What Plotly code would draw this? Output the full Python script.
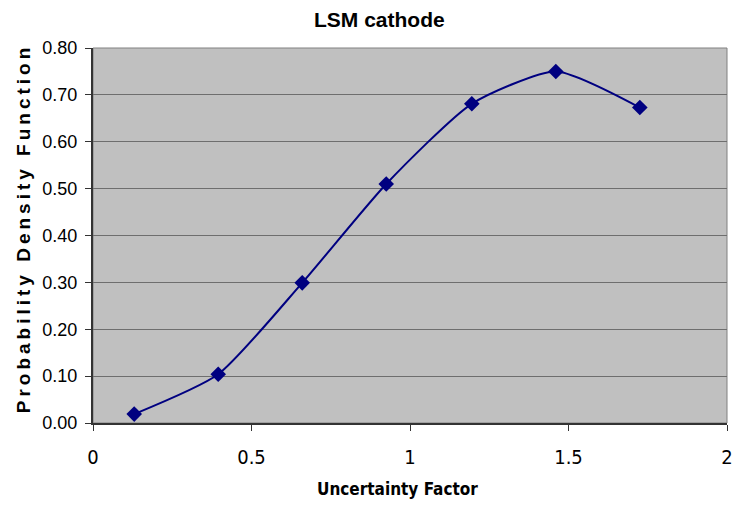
import plotly.graph_objects as go

uncertainty_factor = [0.13, 0.395, 0.66, 0.925, 1.195, 1.46, 1.725]
pdf_values = [0.019, 0.104, 0.299, 0.510, 0.681, 0.750, 0.673]
y_ticks = [0.0, 0.1, 0.2, 0.3, 0.4, 0.5, 0.6, 0.7, 0.8]
y_tick_labels = ["0.00", "0.10", "0.20", "0.30", "0.40", "0.50", "0.60", "0.70", "0.80"]
x_ticks = [0, 0.5, 1, 1.5, 2]
x_tick_labels = ["0", "0.5", "1", "1.5", "2"]

NAVY = "#000080"
NARROW = "DejaVu Sans Condensed, Liberation Sans Narrow, sans-serif"
ARIAL = "Liberation Sans, Arial, sans-serif"

fig = go.Figure()
fig.add_trace(go.Scatter(
    x=uncertainty_factor, y=pdf_values,
    mode="lines+markers",
    line=dict(color=NAVY, width=2, shape="spline", smoothing=0.6),
    marker=dict(symbol="diamond", size=12, color=NAVY),
    showlegend=False,
))

fig.update_layout(
    width=739, height=510,
    margin=dict(l=93, r=6, t=48, b=87),
    paper_bgcolor="white",
    plot_bgcolor="#C0C0C0",
    title=dict(text="<b>LSM cathode</b>", x=0.4516, xref="paper", xanchor="center",
               y=0.961, yref="container", yanchor="middle",
               font=dict(family=ARIAL, size=21, color="black")),
    xaxis=dict(range=[0, 2], tickvals=x_ticks, ticktext=x_tick_labels,
               showgrid=False, zeroline=False,
               showline=True, linecolor="#333333", linewidth=2,
               ticks="outside", ticklen=6, tickcolor="#333333", tickwidth=1,
               ticklabelstandoff=9,
               tickfont=dict(family=NARROW, size=20, color="black")),
    yaxis=dict(range=[0, 0.8], tickvals=y_ticks, ticktext=y_tick_labels,
               showgrid=True, gridcolor="#6E6E6E", gridwidth=1, zeroline=False,
               showline=True, linecolor="#333333", linewidth=2,
               ticks="outside", ticklen=6, tickcolor="#333333", tickwidth=1,
               ticklabelstandoff=4,
               tickfont=dict(family=ARIAL, size=18, color="black")),
    shapes=[dict(type="rect", xref="x domain", yref="y domain", x0=0, x1=1, y0=0, y1=1,
                 line=dict(color="#808080", width=1), layer="below")],
    annotations=[
        dict(text="<b>Uncertainty Factor</b>", xref="paper", yref="paper",
             x=0.48, y=-0.175, xanchor="center", yanchor="middle", showarrow=False,
             font=dict(family=NARROW, size=17, color="black")),
        dict(text="<b>Probability Density Function</b>", xref="paper", yref="paper",
             x=-0.11, y=0.52, xanchor="center", yanchor="middle", showarrow=False,
             textangle=-90,
             font=dict(family=ARIAL, size=19, color="black")),
    ],
)

post = """
var els = document.querySelectorAll('.annotation-text');
els.forEach(function(e){ if (e.textContent.indexOf('Probability') === 0) { e.style.letterSpacing = '4.0px'; } });
"""
fig.write_html("out.html", post_script=post)
